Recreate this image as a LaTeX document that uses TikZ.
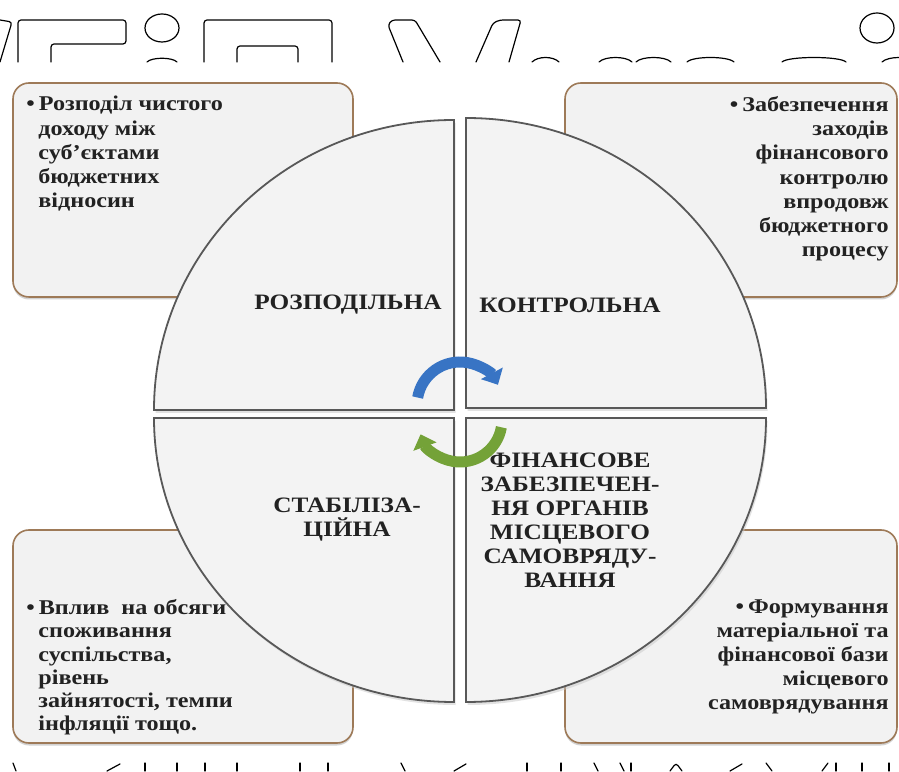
\documentclass[tikz,border=0pt]{standalone}
\usepackage{fontspec}
\setmainfont{Liberation Serif}[FakeStretch=1.15]
\usetikzlibrary{positioning, arrows.meta, shadows}

\definecolor{quadfill}{RGB}{243,243,243}
\definecolor{quadline}{RGB}{88,88,88}
\definecolor{boxline}{RGB}{158,122,88}
\definecolor{boxfill}{RGB}{242,242,242}
\definecolor{arrowblue}{RGB}{56,116,196}
\definecolor{arrowgreen}{RGB}{116,162,56}
\definecolor{txt}{RGB}{34,34,34}

\begin{document}
\begin{tikzpicture}[x=1pt, y=1pt,
    infobox/.style={draw=boxline, line width=1.6pt, fill=boxfill, rounded corners=16pt,
        drop shadow={shadow xshift=0pt, shadow yshift=-2.5pt, fill=black!35}},
    boxtext/.style={font=\fontsize{21}{24.2}\selectfont\bfseries, text=txt, inner sep=0pt},
    quadrant/.style={draw=quadline, line width=1.8pt, fill=quadfill,
        drop shadow={shadow xshift=1.5pt, shadow yshift=-3pt, fill=black!22}},
    quadlabel/.style={font=\fontsize{22}{24}\selectfont\bfseries, text=txt, align=center, inner sep=0pt},
    turn/.style={line width=11pt, -{Triangle[width=24pt,length=13pt]}},
    frag/.style={line width=1.2pt, line cap=round, rounded corners=3pt}]
    \useasboundingbox[fill=white] (0,0) rectangle (899,771);

    % rounded boxes behind the circle
    \node[infobox, minimum width=340pt, minimum height=214pt] (tlbox) at (183,581) {};
    \node[infobox, minimum width=332pt, minimum height=214pt] (trbox) at (731,581) {};
    \node[infobox, minimum width=340pt, minimum height=213pt] (blbox) at (183,134.5) {};
    \node[infobox, minimum width=332pt, minimum height=213pt] (brbox) at (731,134.5) {};

    \node[boxtext, align=left, below right=14pt and 14pt of tlbox.north west] (tltext)
        {•\hspace{4pt}Розподіл чистого\\\hspace*{12pt}доходу між\\\hspace*{12pt}суб'єктами\\\hspace*{12pt}бюджетних\\\hspace*{12pt}відносин};
    \node[boxtext, align=right, below left=14pt and 9pt of trbox.north east] (trtext)
        {•\hspace{4pt}Забезпечення\\заходів\\фінансового\\контролю\\впродовж\\бюджетного\\процесу};
    \node[boxtext, align=left, below right=70pt and 14pt of blbox.north west,
        font=\fontsize{21}{23.3}\selectfont\bfseries] (bltext)
        {•\hspace{4pt}Вплив~ на обсяги\\\hspace*{12pt}споживання\\\hspace*{12pt}суспільства,\\\hspace*{12pt}рівень\\\hspace*{12pt}зайнятості, темпи\\\hspace*{12pt}інфляції тощо.};
    \node[boxtext, align=right, below left=70pt and 9pt of brbox.north east] (brtext)
        {•\hspace{4pt}Формування\\матеріальної та\\фінансової бази\\місцевого\\самоврядування};

    % the four quarters of the circle
    \coordinate (hub) at (460,357);
    \path[quadrant] (454,361) -- ++(-300,0) arc[start angle=180, end angle=90, x radius=300, y radius=290] -- cycle;
    \path[quadrant] (466,363) -- ++(0,290) arc[start angle=90, end angle=0, x radius=300, y radius=290] -- cycle;
    \path[quadrant] (454,353) -- ++(-300,0) arc[start angle=180, end angle=270, x radius=300, y radius=284] -- cycle;
    \path[quadrant] (466,353) -- ++(300,0) arc[start angle=0, end angle=-90, x radius=300, y radius=284] -- cycle;

    \node[quadlabel] (rozp) at (348,466) {РОЗПОДІЛЬНА};
    \node[quadlabel] (kontr) at (570,466) {КОНТРОЛЬНА};
    \node[quadlabel] (stab) at (347,251) {СТАБІЛІЗА-\\ЦІЙНА};
    \node[quadlabel] (fin) at (570,251) {ФІНАНСОВЕ\\ЗАБЕЗПЕЧЕН-\\НЯ ОРГАНІВ\\МІСЦЕВОГО\\САМОВРЯДУ-\\ВАННЯ};

    % cycle arrows
    \draw[turn, arrowblue] ([yshift=9pt]hub) ++(170:43) arc[start angle=170, end angle=28, radius=43];
    \draw[turn, arrowgreen] ([yshift=-6pt]hub) ++(-10:42) arc[start angle=-10, end angle=-160, radius=42];
    \draw[quadline, line width=1.8pt] (466,363) -- (466,400);
    \draw[quadline, line width=1.8pt] (454,353) -- (454,318);

    % cut letters at the top edge
    \draw[frag] (0,709) -- (12,749) -- (0,751);
    \draw[frag] (18,709) -- (18,751) -- (126,751) -- (126,727) -- (51,727) -- (51,709);
    \draw[frag] (162,743) ellipse[x radius=17, y radius=14];
    \draw[frag] (147,709) .. controls (152,714) and (172,714) .. (177,709);
    \draw[frag] (204,709) -- (204,751) -- (332,751) -- (332,709);
    \draw[frag] (237,709) -- (237,725) -- (298,725) -- (298,709);
    \draw[frag] (403,709) -- (388,746) -- (392,751) -- (415,751) -- (440,709);
    \draw[frag] (476,709) -- (493,748) -- (500,751) -- (521,751) -- (509,709);
    \foreach \a/\b in {532/559, 599/632, 636/671, 687/734, 782/846, 882/916}
        \draw[frag] (\a,709) .. controls (\a+6,715) and (\b-6,715) .. (\b,709);
    \draw[frag] (877,743) ellipse[x radius=17, y radius=15];

    % cut letters at the bottom edge
    \foreach \x in {145,177,205,237,300,328,527,561,631,836,862,889}
        \draw[frag] (\x,8) -- (\x,0);
    \foreach \a/\b in {13/16, 401/405, 594/598, 620/624, 766/772, 828/822}
        \draw[frag] (\a,8) -- (\b,0);
    \draw[frag] (120,7) -- (107,0);
    \draw[frag] (466,7) -- (454,0);
    \draw[frag] (742,7) -- (730,0);
    \draw[frag] (670,0) -- (676,8) -- (682,0);
\end{tikzpicture}
\end{document}
